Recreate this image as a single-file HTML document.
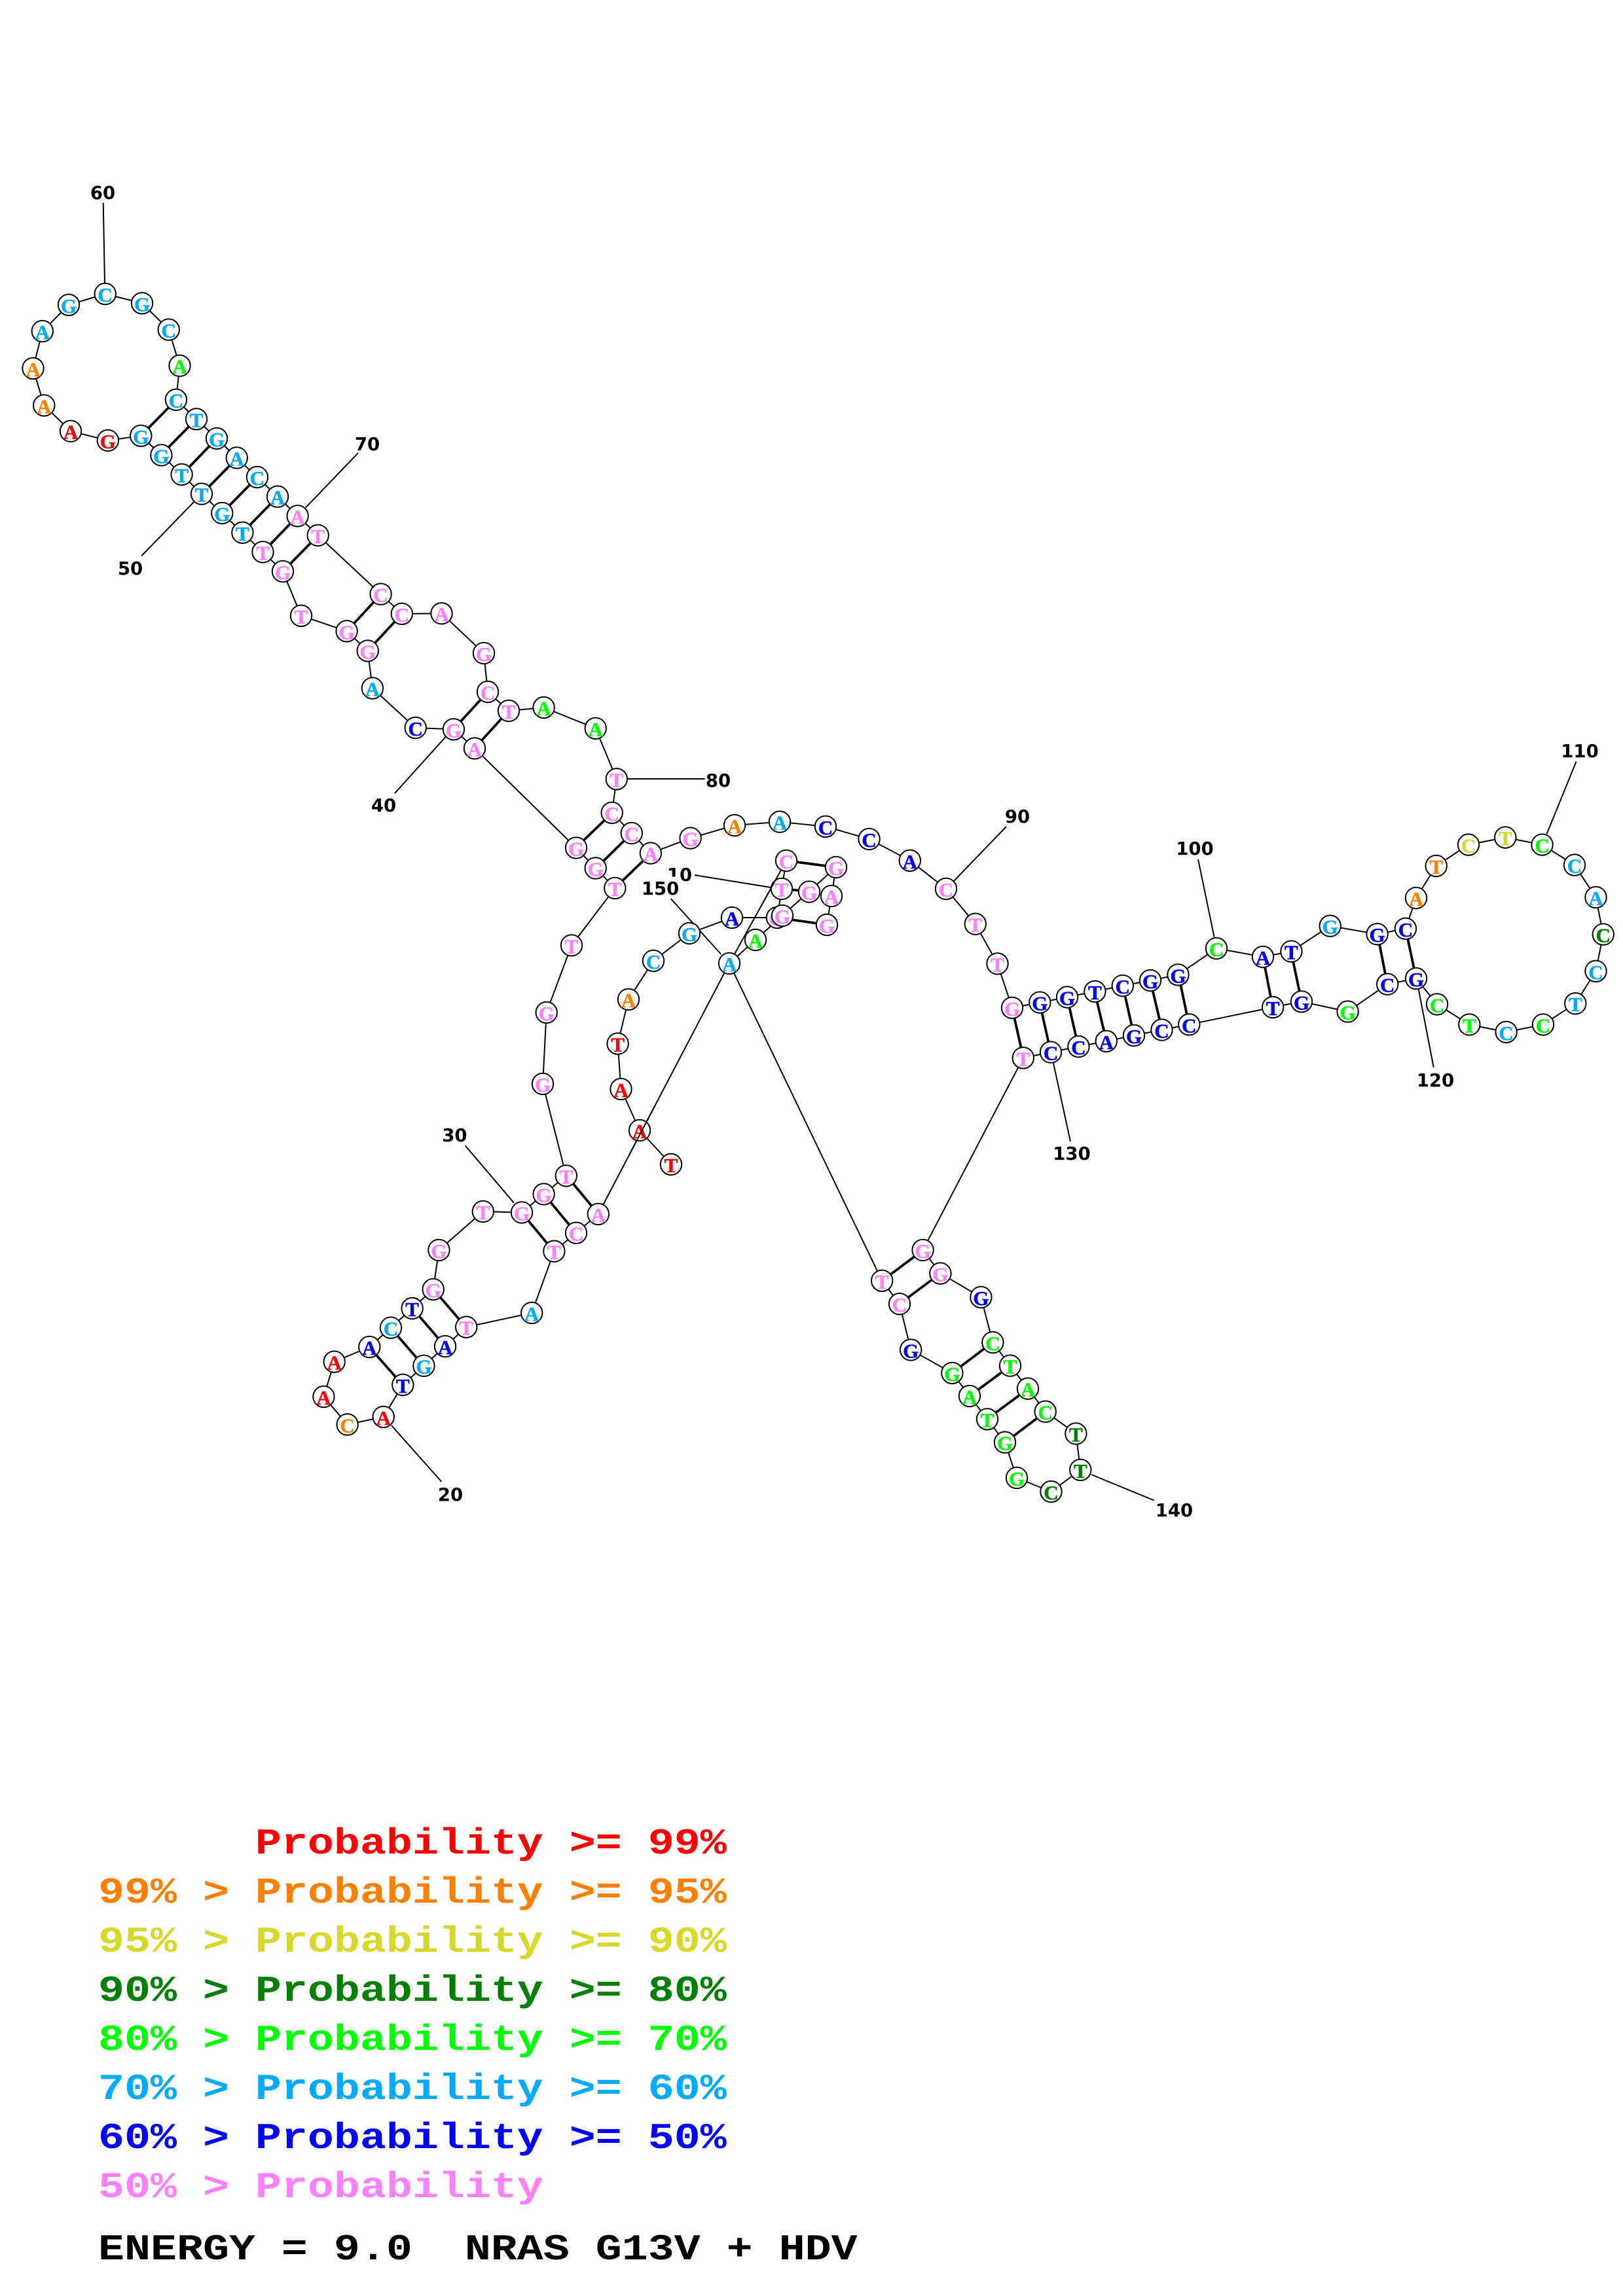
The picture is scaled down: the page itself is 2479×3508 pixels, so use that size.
<!DOCTYPE html>
<html><head><meta charset="utf-8"><title>RNA structure</title>
<style>
html,body{margin:0;padding:0;background:#fff}
svg{display:block}
.n circle{fill:#fff;stroke:#000;stroke-width:2}
.n text{font:bold 31px "Liberation Serif",serif;text-anchor:middle;stroke-width:.6;transform:translateY(12px)}
.r{fill:#f00;stroke:#f00}.o{fill:#ff8000;stroke:#ff8000}.y{fill:#d8d82a;stroke:#d8d82a}.d{fill:#008000;stroke:#008000}.g{fill:#0f0;stroke:#0f0}.s{fill:#00aaff;stroke:#00aaff}.b{fill:#00f;stroke:#00f}.p{fill:#ff80ff;stroke:#ff80ff}
.t{fill:none;stroke:#000;stroke-width:2}
.k{stroke:#000;stroke-width:3.8;fill:none}
.lb{font:bold 27.5px "DejaVu Sans",sans-serif;fill:#000;text-anchor:middle}
.l{font:bold 56px "Liberation Mono",monospace;white-space:pre;stroke-width:0}
</style></head><body>
<svg xmlns="http://www.w3.org/2000/svg" width="2479" height="3508" viewBox="0 0 2479 3508">
<rect width="2479" height="3508" fill="#fff"/>
<path class="k" d="M269 611L215 666M300 640L246 695M331 670L278 725M362 700L308 755M393 729L339 784M424 759L370 814M455 788L402 843M486 818L432 873M582 908L530 964M614 938L562 994M745 1057L693 1114M777 1086L725 1143M935 1242L880 1295M965 1273L910 1327M994 1304L939 1357M865 1796L914 1855M831 1825L880 1884M797 1853L846 1912M662 1970L712 2028M630 1999L680 2057M597 2029L647 2087M564 2058L615 2116M1546 1540L1563 1616M1588 1532L1605 1608M1630 1524L1647 1599M1672 1515L1690 1591M1715 1506L1732 1582M1757 1498L1775 1574M1800 1489L1816 1565M1929 1462L1944 1539M1972 1454L1988 1530M2104 1427L2119 1504M2147 1419L2163 1495M1410 1910L1347 1957M1436 1946L1374 1992M1516 2051L1454 2098M1543 2087L1481 2133M1570 2122L1508 2168M1597 2157L1535 2204M1201 1315L1277 1325M1194 1358L1236 1362M1187 1402L1263 1413"/>
<polyline class="t" points="1025,1779 977,1727 948.5,1664 943.6,1594.6 960,1527 998,1468 1053,1426 1118,1402 1187,1402 1194,1358 1201,1315 1114,1472"/>
<polyline class="t" points="1263,1413 1270,1369 1277,1325 1236,1362 1195,1399 1154,1436 1114,1472"/>
<polyline class="t" points="1114,1472 913.8,1855 880,1883.7 846.4,1911.7 812.2,2006 712.2,2027.6 680,2057 647.4,2086.7 615.3,2115.8 585.7,2164.8 530.6,2176.5 494.4,2134 510.7,2080.6 564.3,2058 597,2028.6 629.6,1999 661.7,1970 670.4,1910 737.8,1851 797,1852.5 830.6,1824.5 864.8,1796.4 829,1656 834.7,1547 873,1444.4 939.3,1357 909.7,1326.5 880,1295.4 725,1143.4 692.9,1114.3 634.7,1112 568.9,1051.5 561.7,994.4 529.6,964.3 460,940.8 432,873 401.5,843.4 370.4,813.8 339.3,784 308,754.6 277.6,725 246.4,695.4 215.3,665.8 164.8,673 108,658.7 67.3,619.4 50.5,562.8 64.8,506 105,465.8 160.7,449 217,463.3 257.7,503.6 274.5,558.7 268.9,610.7 300,640.3 331,669.9 361.7,699.5 392.9,729 424,758.7 454.6,788.3 485.7,817.9 581.6,907.7 613.8,937.8 674.5,937.2 739,998 745,1057 777,1086 830.6,1081 909.7,1112.8 941.8,1190.3 934.7,1241.8 964.8,1273 993.9,1303.6 1054.6,1280.6 1122,1261 1191,1255.6 1261,1262.8 1327.6,1282 1389.8,1314.8 1445,1358 1489.8,1411.7 1523.5,1472.4 1546,1539.8 1588.3,1531.6 1630,1523.5 1672.4,1514.8 1714.8,1506 1757,1498 1799.5,1489.3 1858,1449 1929,1462 1972.4,1453.6 2031.7,1414.7 2103.6,1427.2 2146.9,1418.8 2163,1372 2193.7,1323 2243,1290.6 2299.3,1279.5 2355.6,1290.6 2405,1321.6 2437.5,1371 2448.8,1427.6 2437.5,1483.8 2406.3,1533.2 2357,1565.4 2300.6,1576.8 2244.3,1565.4 2195,1534.4 2163,1495 2119.2,1503.7 2058.6,1545.6 1988,1530.3 1944.2,1539 1816.3,1565.3 1774.5,1573.5 1732,1582 1689.8,1590.8 1647.4,1599 1605,1607.6 1562.8,1616.3 1409.6,1910 1436.4,1945.6 1498.4,1982 1516.4,2051 1543,2086.6 1570,2121.6 1596.7,2156.7 1643.4,2190.4 1650.3,2245.8 1605.5,2279 1553,2258 1535,2203.7 1508,2168.3 1481,2132.9 1454.4,2097.8 1391.2,2062.4 1374,1992.2 1347.2,1956.8 1114,1472"/>
<g class="t">
<path d="M157.700 310L160 433M547 692L467 775.500M216 849.500L296 767M959 1190L1076.500 1190M681 1125.500L603 1212M1061 1337L1178 1356M1024.600 1373L1101.400 1458M710.700 1750.500L785 1837.800M598 2178L674.500 2264M1537 1263L1457 1346M1830 1312.800L1854.600 1431.600M1609 1624.500L1635 1744M2407.600 1163.500L2362.600 1274M2166.800 1511.800L2189.800 1631M1667 2253L1763 2292.500"/>
</g>
<g class="n">
<g transform="translate(1025,1779)"><circle r="16.2"/><text class="r">T</text></g>
<g transform="translate(977,1727)"><circle r="16.2"/><text class="r">A</text></g>
<g transform="translate(948.5,1664)"><circle r="16.2"/><text class="r">A</text></g>
<g transform="translate(943.6,1594.6)"><circle r="16.2"/><text class="r">T</text></g>
<g transform="translate(960,1527)"><circle r="16.2"/><text class="o">A</text></g>
<g transform="translate(998,1468)"><circle r="16.2"/><text class="s">C</text></g>
<g transform="translate(1053,1426)"><circle r="16.2"/><text class="s">G</text></g>
<g transform="translate(1118,1402)"><circle r="16.2"/><text class="b">A</text></g>
<g transform="translate(1187,1402)"><circle r="16.2"/><text class="p">G</text></g>
<g transform="translate(1194,1358)"><circle r="16.2"/><text class="p">T</text></g>
<g transform="translate(1201,1315)"><circle r="16.2"/><text class="p">C</text></g>
<g transform="translate(1277,1325)"><circle r="16.2"/><text class="p">G</text></g>
<g transform="translate(1270,1369)"><circle r="16.2"/><text class="p">A</text></g>
<g transform="translate(1263,1413)"><circle r="16.2"/><text class="p">G</text></g>
<g transform="translate(1236,1362.5)"><circle r="16.2"/><text class="p">G</text></g>
<g transform="translate(1195,1399)"><circle r="16.2"/><text class="p">G</text></g>
<g transform="translate(1154,1436)"><circle r="16.2"/><text class="g">A</text></g>
<g transform="translate(1114,1472)"><circle r="16.2"/><text class="s">A</text></g>
<g transform="translate(913.8,1855)"><circle r="16.2"/><text class="p">A</text></g>
<g transform="translate(880,1883.7)"><circle r="16.2"/><text class="p">C</text></g>
<g transform="translate(846.4,1911.7)"><circle r="16.2"/><text class="p">T</text></g>
<g transform="translate(812.2,2006)"><circle r="16.2"/><text class="s">A</text></g>
<g transform="translate(712.2,2027.6)"><circle r="16.2"/><text class="p">T</text></g>
<g transform="translate(680,2057)"><circle r="16.2"/><text class="b">A</text></g>
<g transform="translate(647.4,2086.7)"><circle r="16.2"/><text class="s">G</text></g>
<g transform="translate(615.3,2115.8)"><circle r="16.2"/><text class="b">T</text></g>
<g transform="translate(585.7,2164.8)"><circle r="16.2"/><text class="r">A</text></g>
<g transform="translate(530.6,2176.5)"><circle r="16.2"/><text class="o">C</text></g>
<g transform="translate(494.4,2134)"><circle r="16.2"/><text class="r">A</text></g>
<g transform="translate(510.7,2080.6)"><circle r="16.2"/><text class="r">A</text></g>
<g transform="translate(564.3,2058)"><circle r="16.2"/><text class="b">A</text></g>
<g transform="translate(597,2028.6)"><circle r="16.2"/><text class="s">C</text></g>
<g transform="translate(629.6,1999)"><circle r="16.2"/><text class="b">T</text></g>
<g transform="translate(661.7,1970)"><circle r="16.2"/><text class="p">G</text></g>
<g transform="translate(670.4,1910)"><circle r="16.2"/><text class="p">G</text></g>
<g transform="translate(737.8,1851)"><circle r="16.2"/><text class="p">T</text></g>
<g transform="translate(797,1852.5)"><circle r="16.2"/><text class="p">G</text></g>
<g transform="translate(830.6,1824.5)"><circle r="16.2"/><text class="p">G</text></g>
<g transform="translate(864.8,1796.4)"><circle r="16.2"/><text class="p">T</text></g>
<g transform="translate(829,1656)"><circle r="16.2"/><text class="p">G</text></g>
<g transform="translate(834.7,1547)"><circle r="16.2"/><text class="p">G</text></g>
<g transform="translate(873,1444.4)"><circle r="16.2"/><text class="p">T</text></g>
<g transform="translate(939.3,1357)"><circle r="16.2"/><text class="p">T</text></g>
<g transform="translate(909.7,1326.5)"><circle r="16.2"/><text class="p">G</text></g>
<g transform="translate(880,1295.4)"><circle r="16.2"/><text class="p">G</text></g>
<g transform="translate(725,1143.4)"><circle r="16.2"/><text class="p">A</text></g>
<g transform="translate(692.9,1114.3)"><circle r="16.2"/><text class="p">G</text></g>
<g transform="translate(634.7,1112)"><circle r="16.2"/><text class="b">C</text></g>
<g transform="translate(568.9,1051.5)"><circle r="16.2"/><text class="s">A</text></g>
<g transform="translate(561.7,994.4)"><circle r="16.2"/><text class="p">G</text></g>
<g transform="translate(529.6,964.3)"><circle r="16.2"/><text class="p">G</text></g>
<g transform="translate(460,940.8)"><circle r="16.2"/><text class="p">T</text></g>
<g transform="translate(432,873)"><circle r="16.2"/><text class="p">G</text></g>
<g transform="translate(401.5,843.4)"><circle r="16.2"/><text class="p">T</text></g>
<g transform="translate(370.4,813.8)"><circle r="16.2"/><text class="s">T</text></g>
<g transform="translate(339.3,784)"><circle r="16.2"/><text class="s">G</text></g>
<g transform="translate(308,754.6)"><circle r="16.2"/><text class="s">T</text></g>
<g transform="translate(277.6,725)"><circle r="16.2"/><text class="s">T</text></g>
<g transform="translate(246.4,695.4)"><circle r="16.2"/><text class="s">G</text></g>
<g transform="translate(215.3,665.8)"><circle r="16.2"/><text class="s">G</text></g>
<g transform="translate(164.8,673)"><circle r="16.2"/><text class="r">G</text></g>
<g transform="translate(108,658.7)"><circle r="16.2"/><text class="r">A</text></g>
<g transform="translate(67.3,619.4)"><circle r="16.2"/><text class="o">A</text></g>
<g transform="translate(50.5,562.8)"><circle r="16.2"/><text class="o">A</text></g>
<g transform="translate(64.8,506)"><circle r="16.2"/><text class="s">A</text></g>
<g transform="translate(105,465.8)"><circle r="16.2"/><text class="s">G</text></g>
<g transform="translate(160.7,449)"><circle r="16.2"/><text class="s">C</text></g>
<g transform="translate(217,463.3)"><circle r="16.2"/><text class="s">G</text></g>
<g transform="translate(257.7,503.6)"><circle r="16.2"/><text class="s">C</text></g>
<g transform="translate(274.5,558.7)"><circle r="16.2"/><text class="g">A</text></g>
<g transform="translate(268.9,610.7)"><circle r="16.2"/><text class="s">C</text></g>
<g transform="translate(300,640.3)"><circle r="16.2"/><text class="s">T</text></g>
<g transform="translate(331,669.9)"><circle r="16.2"/><text class="s">G</text></g>
<g transform="translate(361.7,699.5)"><circle r="16.2"/><text class="s">A</text></g>
<g transform="translate(392.9,729)"><circle r="16.2"/><text class="s">C</text></g>
<g transform="translate(424,758.7)"><circle r="16.2"/><text class="s">A</text></g>
<g transform="translate(454.6,788.3)"><circle r="16.2"/><text class="p">A</text></g>
<g transform="translate(485.7,817.9)"><circle r="16.2"/><text class="p">T</text></g>
<g transform="translate(581.6,907.7)"><circle r="16.2"/><text class="p">C</text></g>
<g transform="translate(613.8,937.8)"><circle r="16.2"/><text class="p">C</text></g>
<g transform="translate(674.5,937.2)"><circle r="16.2"/><text class="p">A</text></g>
<g transform="translate(739,998)"><circle r="16.2"/><text class="p">G</text></g>
<g transform="translate(745,1057)"><circle r="16.2"/><text class="p">C</text></g>
<g transform="translate(777,1086)"><circle r="16.2"/><text class="p">T</text></g>
<g transform="translate(830.6,1081)"><circle r="16.2"/><text class="g">A</text></g>
<g transform="translate(909.7,1112.8)"><circle r="16.2"/><text class="g">A</text></g>
<g transform="translate(941.8,1190.3)"><circle r="16.2"/><text class="p">T</text></g>
<g transform="translate(934.7,1241.8)"><circle r="16.2"/><text class="p">C</text></g>
<g transform="translate(964.8,1273)"><circle r="16.2"/><text class="p">C</text></g>
<g transform="translate(993.9,1303.6)"><circle r="16.2"/><text class="p">A</text></g>
<g transform="translate(1054.6,1280.6)"><circle r="16.2"/><text class="p">G</text></g>
<g transform="translate(1122,1261)"><circle r="16.2"/><text class="o">A</text></g>
<g transform="translate(1191,1255.6)"><circle r="16.2"/><text class="s">A</text></g>
<g transform="translate(1261,1262.8)"><circle r="16.2"/><text class="b">C</text></g>
<g transform="translate(1327.6,1282)"><circle r="16.2"/><text class="b">C</text></g>
<g transform="translate(1389.8,1314.8)"><circle r="16.2"/><text class="b">A</text></g>
<g transform="translate(1445,1358)"><circle r="16.2"/><text class="p">C</text></g>
<g transform="translate(1489.8,1411.7)"><circle r="16.2"/><text class="p">T</text></g>
<g transform="translate(1523.5,1472.4)"><circle r="16.2"/><text class="p">T</text></g>
<g transform="translate(1546,1539.8)"><circle r="16.2"/><text class="p">G</text></g>
<g transform="translate(1588.3,1531.6)"><circle r="16.2"/><text class="b">G</text></g>
<g transform="translate(1630,1523.5)"><circle r="16.2"/><text class="b">G</text></g>
<g transform="translate(1672.4,1514.8)"><circle r="16.2"/><text class="b">T</text></g>
<g transform="translate(1714.8,1506)"><circle r="16.2"/><text class="b">C</text></g>
<g transform="translate(1757,1498)"><circle r="16.2"/><text class="b">G</text></g>
<g transform="translate(1799.5,1489.3)"><circle r="16.2"/><text class="b">G</text></g>
<g transform="translate(1858,1449)"><circle r="16.2"/><text class="g">C</text></g>
<g transform="translate(1929,1462)"><circle r="16.2"/><text class="b">A</text></g>
<g transform="translate(1972.4,1453.6)"><circle r="16.2"/><text class="b">T</text></g>
<g transform="translate(2031.7,1414.7)"><circle r="16.2"/><text class="s">G</text></g>
<g transform="translate(2103.6,1427.2)"><circle r="16.2"/><text class="b">G</text></g>
<g transform="translate(2146.9,1418.8)"><circle r="16.2"/><text class="b">C</text></g>
<g transform="translate(2163,1372)"><circle r="16.2"/><text class="o">A</text></g>
<g transform="translate(2193.7,1323)"><circle r="16.2"/><text class="o">T</text></g>
<g transform="translate(2243,1290.6)"><circle r="16.2"/><text class="y">C</text></g>
<g transform="translate(2299.3,1279.5)"><circle r="16.2"/><text class="y">T</text></g>
<g transform="translate(2355.6,1290.6)"><circle r="16.2"/><text class="g">C</text></g>
<g transform="translate(2405,1321.6)"><circle r="16.2"/><text class="s">C</text></g>
<g transform="translate(2437.5,1371)"><circle r="16.2"/><text class="s">A</text></g>
<g transform="translate(2448.8,1427.6)"><circle r="16.2"/><text class="d">C</text></g>
<g transform="translate(2437.5,1483.8)"><circle r="16.2"/><text class="s">C</text></g>
<g transform="translate(2406.3,1533.2)"><circle r="16.2"/><text class="s">T</text></g>
<g transform="translate(2357,1565.4)"><circle r="16.2"/><text class="g">C</text></g>
<g transform="translate(2300.6,1576.8)"><circle r="16.2"/><text class="s">C</text></g>
<g transform="translate(2244.3,1565.4)"><circle r="16.2"/><text class="g">T</text></g>
<g transform="translate(2195,1534.4)"><circle r="16.2"/><text class="g">C</text></g>
<g transform="translate(2163,1495)"><circle r="16.2"/><text class="b">G</text></g>
<g transform="translate(2119.2,1503.7)"><circle r="16.2"/><text class="b">C</text></g>
<g transform="translate(2058.6,1545.6)"><circle r="16.2"/><text class="g">G</text></g>
<g transform="translate(1988,1530.3)"><circle r="16.2"/><text class="b">G</text></g>
<g transform="translate(1944.2,1539)"><circle r="16.2"/><text class="b">T</text></g>
<g transform="translate(1816.3,1565.3)"><circle r="16.2"/><text class="b">C</text></g>
<g transform="translate(1774.5,1573.5)"><circle r="16.2"/><text class="b">C</text></g>
<g transform="translate(1732,1582)"><circle r="16.2"/><text class="b">G</text></g>
<g transform="translate(1689.8,1590.8)"><circle r="16.2"/><text class="b">A</text></g>
<g transform="translate(1647.4,1599)"><circle r="16.2"/><text class="b">C</text></g>
<g transform="translate(1605,1607.6)"><circle r="16.2"/><text class="b">C</text></g>
<g transform="translate(1562.8,1616.3)"><circle r="16.2"/><text class="p">T</text></g>
<g transform="translate(1409.6,1910)"><circle r="16.2"/><text class="p">G</text></g>
<g transform="translate(1436.4,1945.6)"><circle r="16.2"/><text class="p">G</text></g>
<g transform="translate(1498.4,1982)"><circle r="16.2"/><text class="b">G</text></g>
<g transform="translate(1516.4,2051)"><circle r="16.2"/><text class="g">C</text></g>
<g transform="translate(1543,2086.6)"><circle r="16.2"/><text class="g">T</text></g>
<g transform="translate(1570,2121.6)"><circle r="16.2"/><text class="g">A</text></g>
<g transform="translate(1596.7,2156.7)"><circle r="16.2"/><text class="g">C</text></g>
<g transform="translate(1643.4,2190.4)"><circle r="16.2"/><text class="d">T</text></g>
<g transform="translate(1650.3,2245.8)"><circle r="16.2"/><text class="d">T</text></g>
<g transform="translate(1605.5,2279)"><circle r="16.2"/><text class="d">C</text></g>
<g transform="translate(1553,2258)"><circle r="16.2"/><text class="g">G</text></g>
<g transform="translate(1535,2203.7)"><circle r="16.2"/><text class="g">G</text></g>
<g transform="translate(1508,2168.3)"><circle r="16.2"/><text class="g">T</text></g>
<g transform="translate(1481,2132.9)"><circle r="16.2"/><text class="g">A</text></g>
<g transform="translate(1454.4,2097.8)"><circle r="16.2"/><text class="g">G</text></g>
<g transform="translate(1391.2,2062.4)"><circle r="16.2"/><text class="b">G</text></g>
<g transform="translate(1374,1992.2)"><circle r="16.2"/><text class="p">C</text></g>
<g transform="translate(1347.2,1956.8)"><circle r="16.2"/><text class="p">T</text></g>
</g>
<path class="t" d="M1000 1690L960.800 1765M1187.100 1340L1162.200 1385"/>
<text class="lb" x="157" y="304">60</text>
<text class="lb" x="561" y="688">70</text>
<text class="lb" x="199" y="878">50</text>
<text class="lb" x="1097" y="1202">80</text>
<text class="lb" x="586" y="1240">40</text>
<text class="lb" x="1038" y="1346">10</text>
<rect x="978" y="1339.500" width="60" height="30" fill="#fff"/>
<text class="lb" x="1008.600" y="1367">150</text>
<text class="lb" x="694.400" y="1744">30</text>
<text class="lb" x="688" y="2293">20</text>
<text class="lb" x="1554" y="1257">90</text>
<text class="lb" x="1825" y="1306">100</text>
<text class="lb" x="1637" y="1772">130</text>
<text class="lb" x="2413" y="1157">110</text>
<text class="lb" x="2192.400" y="1660">120</text>
<text class="lb" x="1793.400" y="2317">140</text>
<text class="l r" transform="translate(150,2832) scale(1.19,1)">      Probability &gt;= 99%</text>
<text class="l o" transform="translate(150,2907) scale(1.19,1)">99% &gt; Probability &gt;= 95%</text>
<text class="l y" transform="translate(150,2982) scale(1.19,1)">95% &gt; Probability &gt;= 90%</text>
<text class="l d" transform="translate(150,3057) scale(1.19,1)">90% &gt; Probability &gt;= 80%</text>
<text class="l g" transform="translate(150,3132) scale(1.19,1)">80% &gt; Probability &gt;= 70%</text>
<text class="l s" transform="translate(150,3207) scale(1.19,1)">70% &gt; Probability &gt;= 60%</text>
<text class="l b" transform="translate(150,3282) scale(1.19,1)">60% &gt; Probability &gt;= 50%</text>
<text class="l p" transform="translate(150,3357) scale(1.19,1)">50% &gt; Probability</text>
<text class="l" fill="#000" transform="translate(150,3452) scale(1.19,1)">ENERGY = 9.0  NRAS G13V + HDV</text>
</svg>
</body></html>
